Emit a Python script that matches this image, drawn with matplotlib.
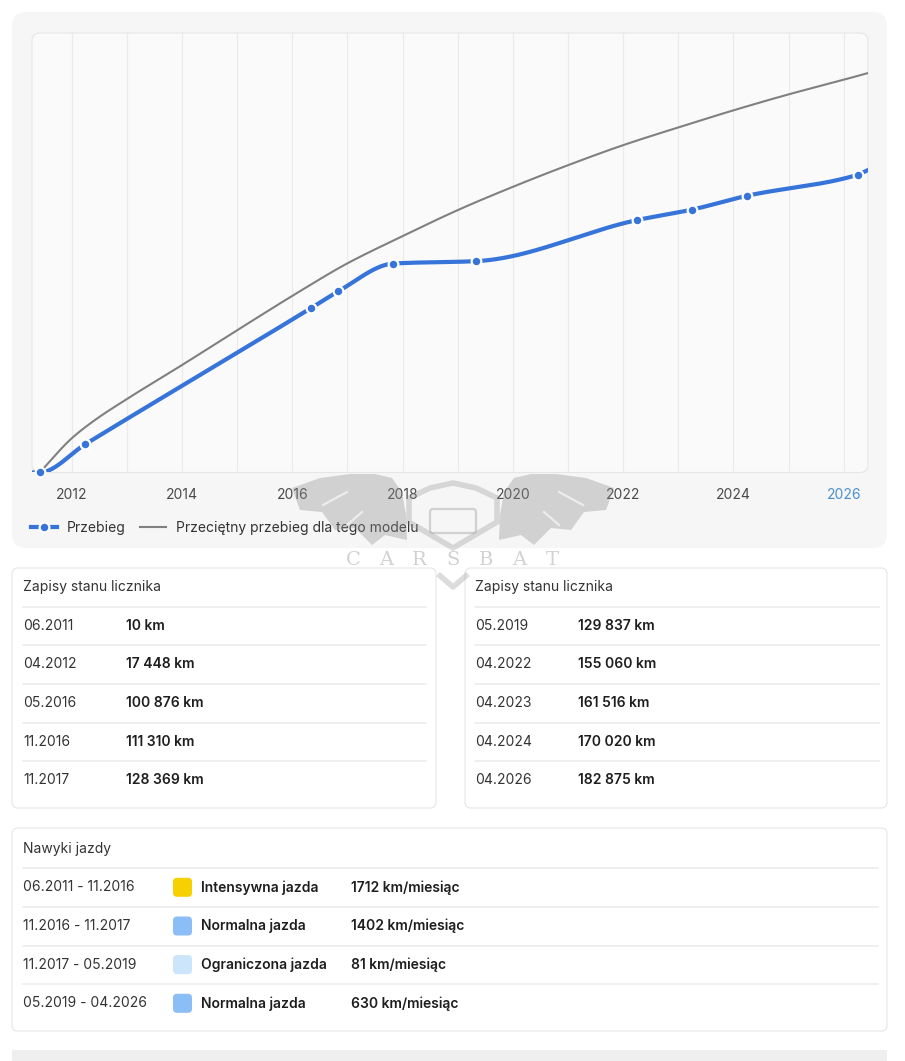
import numpy as np
import matplotlib
matplotlib.use("Agg")
import matplotlib.pyplot as plt
from matplotlib.patches import FancyBboxPatch, Polygon, Rectangle
from matplotlib.lines import Line2D

plt.rcParams['font.family'] = ['Inter', 'DejaVu Sans']

# Zapisy stanu licznika
dates = ["06.2011", "04.2012", "05.2016", "11.2016", "11.2017",
         "05.2019", "04.2022", "04.2023", "04.2024", "04.2026"]
mileage = [10, 17448, 100876, 111310, 128369, 129837, 155060, 161516, 170020, 182875]

# przeciętny przebieg dla modelu
avg_years = [2011.42, 2012.0, 2012.42, 2012.97, 2014, 2015, 2016, 2017, 2018, 2019,
             2020, 2021, 2022, 2023, 2024, 2025, 2026, 2026.44]
avg_km = [0, 21000, 32200, 44500, 66000, 87400, 108500, 128500, 145200, 161200,
          175500, 188800, 201100, 212000, 222500, 232300, 241300, 245400]

# linia przebiegu na krawędziach wykresu
x_left, x_right = 2011.28, 2026.44
edge_left_km, edge_right_km = 0, 185800

# Nawyki jazdy
habit_periods = ["06.2011 - 11.2016", "11.2016 - 11.2017", "11.2017 - 05.2019", "05.2019 - 04.2026"]
habit_labels = ["Intensywna jazda", "Normalna jazda", "Ograniczona jazda", "Normalna jazda"]
habit_rates = ["1712 km/miesiąc", "1402 km/miesiąc", "81 km/miesiąc", "630 km/miesiąc"]
habit_colors = ["#f6d000", "#8bbdf6", "#cce5fb", "#8bbdf6"]

BLUE = "#3674d9"
GRAY = "#808080"
W, H = 905, 1061


def date_to_year(s):
    m, y = s.split(".")
    return int(y) + (int(m) - 1) / 12


def pchip(x, y, xs):
    x = np.asarray(x, float)
    y = np.asarray(y, float)
    h = np.diff(x)
    d = np.diff(y) / h
    m = np.zeros_like(y)
    m[0], m[-1] = d[0], d[-1]
    for k in range(1, len(x) - 1):
        if d[k - 1] * d[k] > 0:
            w1 = 2 * h[k] + h[k - 1]
            w2 = h[k] + 2 * h[k - 1]
            m[k] = (w1 + w2) / (w1 / d[k - 1] + w2 / d[k])
    i = np.clip(np.searchsorted(x, xs) - 1, 0, len(x) - 2)
    t = (xs - x[i]) / h[i]
    return ((2 * t**3 - 3 * t**2 + 1) * y[i] + (t**3 - 2 * t**2 + t) * h[i] * m[i]
            + (-2 * t**3 + 3 * t**2) * y[i + 1] + (t**3 - t**2) * h[i] * m[i + 1])


def fmt_km(v):
    return f"{v:,}".replace(",", " ") + " km"


fig = plt.figure(figsize=(W / 100, H / 100), dpi=100)
fig.patch.set_facecolor("white")

# tło / karty (1 jednostka = 1 piksel)
bg = fig.add_axes([0, 0, 1, 1], zorder=0)
bg.set_xlim(0, W)
bg.set_ylim(H, 0)
bg.axis("off")


def card(x0, y0, x1, y1, fc, ec="none", r=8, lw=1.0):
    bg.add_patch(FancyBboxPatch((x0 + r, y0 + r), x1 - x0 - 2 * r, y1 - y0 - 2 * r,
                                boxstyle=f"round,pad={r}", fc=fc, ec=ec, lw=lw))


card(12, 12, 887, 548, "#f6f6f6", r=14)
card(32, 33, 868, 472.5, "#fafafa", ec="#e6e6e6", r=8, lw=0.8)

# wykres
ax = fig.add_axes([32 / W, 1 - 472.5 / H, (868 - 32) / W, (472.5 - 33) / H], zorder=1)
ax.set_facecolor("none")
ax.set_xlim(x_left, x_right)
ax.set_ylim(0, 270000)
for s in ax.spines.values():
    s.set_visible(False)
ax.set_yticks([])
ax.set_xticks(range(2012, 2027, 2))
ax.set_xticks(range(2012, 2027), minor=True)
ax.grid(True, which="both", axis="x", color="#ebebeb", lw=0.9)
ax.tick_params(axis="x", which="both", length=0, pad=11, labelsize=10, labelcolor="#4a4a4a")
ax.get_xticklabels()[-1].set_color("#4a8fd0")

xs = np.linspace(x_left, x_right, 800)
ax.plot(xs, pchip(avg_years, avg_km, xs), color=GRAY, lw=1.5, zorder=2,
        solid_capstyle="round")

px = [date_to_year(d) for d in dates]
kx = [x_left] + px + [x_right]
ky = [edge_left_km] + mileage + [edge_right_km]
ax.plot(xs, pchip(kx, ky, xs), color=BLUE, lw=3.0, zorder=3)
ax.plot(px, mileage, "o", color=BLUE, ms=7, mec="white", mew=1.6, zorder=4, clip_on=False)

handles = [Line2D([], [], color=BLUE, lw=3.0, marker="o", ms=7, mec="white", mew=1.6),
           Line2D([], [], color=GRAY, lw=1.5)]
ax.legend(handles, ["Przebieg", "Przeciętny przebieg dla tego modelu"],
          loc="center left", bbox_to_anchor=(31, 528), bbox_transform=bg.transData,
          ncol=2, frameon=False, fontsize=10, handlelength=1.9, handletextpad=0.7,
          columnspacing=1.0, borderpad=0, borderaxespad=0, labelcolor="#333333")

# karty z odczytami
TXT = "#333333"
BOLD = "#1e1e1e"
card(12, 568, 436, 808, "white", ec="#e6e6e6", r=6, lw=0.8)
card(465, 568, 887, 808, "white", ec="#e6e6e6", r=6, lw=0.8)
row_y = [626, 664.5, 703.2, 742, 780.5]
sep_y = [606.5, 645, 684, 722.5, 761]
for (cx, vx, x_end, chunk_d, chunk_v) in [(23, 126, 426, dates[:5], mileage[:5]),
                                          (475, 578, 879, dates[5:], mileage[5:])]:
    bg.text(cx, 587.5, "Zapisy stanu licznika", fontsize=10, color=TXT, va="center")
    for sy in sep_y:
        bg.plot([cx, x_end], [sy, sy], color="#ebebeb", lw=1.1)
    for ry, d, v in zip(row_y, chunk_d, chunk_v):
        bg.text(cx, ry, d, fontsize=10, color=TXT, va="center")
        bg.text(vx, ry, fmt_km(v), fontsize=10, color=BOLD, va="center", fontweight="semibold")

# nawyki jazdy
card(12, 828, 887, 1031, "white", ec="#e6e6e6", r=6, lw=0.8)
bg.text(23, 848.5, "Nawyki jazdy", fontsize=10, color=TXT, va="center")
for sy in [868.3, 907, 945.7, 984]:
    bg.plot([23, 878], [sy, sy], color="#ebebeb", lw=1.1)
for ry, per, lab, rate, col in zip([887.3, 926, 964.6, 1003.3], habit_periods,
                                   habit_labels, habit_rates, habit_colors):
    bg.text(23, ry, per, fontsize=10, color=TXT, va="center")
    bg.add_patch(FancyBboxPatch((173 + 4, ry - 9.5 + 4), 19 - 8, 19 - 8,
                                boxstyle="round,pad=4", fc=col, ec="none"))
    bg.text(201, ry, lab, fontsize=10, color=BOLD, va="center", fontweight="semibold")
    bg.text(351, ry, rate, fontsize=10, color=BOLD, va="center", fontweight="semibold")

bg.add_patch(Rectangle((12, 1050), 875, 11, fc="#efefef", ec="none"))

# znak wodny
wm = fig.add_axes([0, 0, 1, 1], zorder=5)
wm.set_xlim(0, W)
wm.set_ylim(H, 0)
wm.axis("off")
wing = [(292, 488), (320, 478), (350, 474), (375, 474), (392, 478), (402, 492),
        (406, 515), (407, 540), (385, 535), (372, 545), (355, 528), (335, 530),
        (322, 512), (300, 510)]
streaks = [[(323, 505), (347, 492)], [(347, 525), (362, 512)]]
for flip in (False, True):
    pts = [(906 - x, y) for x, y in wing] if flip else wing
    wm.add_patch(Polygon(pts, closed=True, fc="#8c8c8c", ec="none", alpha=0.35))
    for a, b in streaks:
        xa, xb = (906 - a[0], 906 - b[0]) if flip else (a[0], b[0])
        wm.plot([xa, xb], [a[1], b[1]], color="white", lw=1.6, alpha=0.6)
shield = [(409, 498), (430, 488), (453, 483), (476, 488), (497, 498), (497, 522),
          (453, 548), (409, 522)]
wm.add_patch(Polygon(shield, closed=True, fc="none", ec="#8c8c8c", lw=4, alpha=0.3))
wm.add_patch(FancyBboxPatch((433, 512), 40, 18, boxstyle="round,pad=3",
                            fc="none", ec="#8c8c8c", lw=1.6, alpha=0.35))
wm.plot([438, 453, 468], [574, 587, 574], color="#8c8c8c", lw=4, alpha=0.3,
        solid_capstyle="butt")
for i, ch in enumerate("CARSBAT"):
    wm.text(353 + i * 33.3, 560, ch, fontsize=14, family="DejaVu Serif",
            color="#9a9a9a", alpha=0.45, ha="center", va="center")

fig.savefig("out.png", dpi=100, facecolor="white")
